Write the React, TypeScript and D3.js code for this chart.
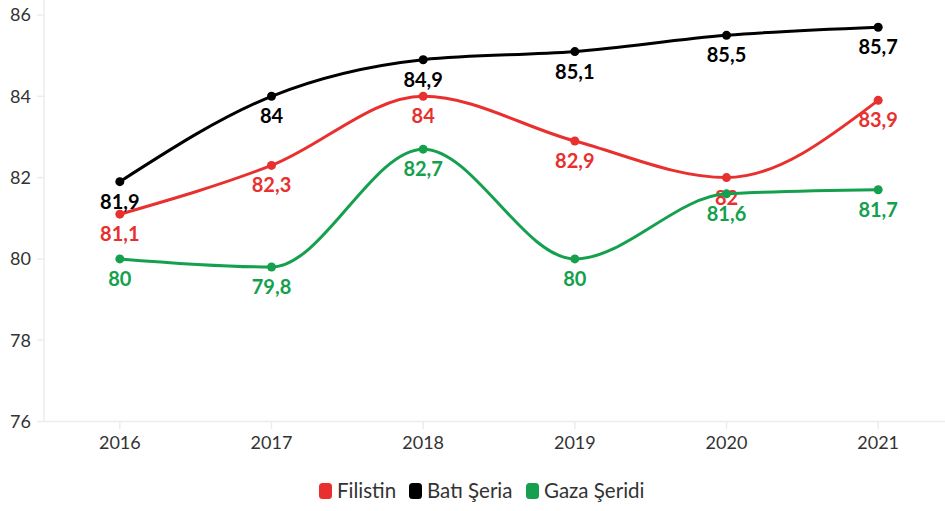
import React from "react";
import * as d3 from "d3";

const years = ["2016", "2017", "2018", "2019", "2020", "2021"];
const filistin = [81.1, 82.3, 84, 82.9, 82, 83.9];
const batiSeria = [81.9, 84, 84.9, 85.1, 85.5, 85.7];
const gazaSeridi = [80, 79.8, 82.7, 80, 81.6, 81.7];
const yTicks = [76, 78, 80, 82, 84, 86];

const seriesNames = ["Filistin", "Batı Şeria", "Gaza Şeridi"];
const seriesValues = [filistin, batiSeria, gazaSeridi];
const seriesColors = ["#e8302f", "#000000", "#15a04e"];

const W = 945;
const H = 511;
const FONT = "Lato, 'Source Sans Pro', sans-serif";

export default function App() {
  const x = d3.scaleBand<string>().domain(years).range([44, 954]);
  const y = d3.scaleLinear().domain([76, 86]).range([421.5, 15]);
  const cx = (d: string) => (x(d) as number) + x.bandwidth() / 2;
  const line = d3
    .line<number>()
    .x((_, i) => cx(years[i]))
    .y((v) => y(v))
    .curve(d3.curveMonotoneX);
  const fmt = (v: number) => String(v).replace(".", ",");

  const legendX = [319, 409, 526];

  return (
    <svg width={W} height={H} style={{ position: "absolute", left: 0, top: 0, fontFamily: FONT }}>
      <rect width={W} height={H} fill="#fff" />
      <line x1={44} x2={44} y1={0} y2={421.5} stroke="#ececec" strokeWidth={1.5} />
      <line x1={44} x2={W} y1={421.5} y2={421.5} stroke="#ececec" strokeWidth={1.5} />
      {yTicks.map((t) => (
        <g key={t}>
          <line x1={37} x2={44} y1={y(t)} y2={y(t)} stroke="#ececec" strokeWidth={1.5} />
          <text x={31} y={y(t)} dy="0.36em" textAnchor="end" fontSize={18} fill="#333">
            {t}
          </text>
        </g>
      ))}
      {years.map((yr) => (
        <g key={yr}>
          <line x1={cx(yr)} x2={cx(yr)} y1={421.5} y2={429} stroke="#ececec" strokeWidth={1.5} />
          <text x={cx(yr)} y={449} textAnchor="middle" fontSize={18} fill="#333">
            {yr}
          </text>
        </g>
      ))}
      {seriesValues.map((vals, si) => (
        <g key={si}>
          <path d={line(vals) || ""} fill="none" stroke={seriesColors[si]} strokeWidth={3} />
          {vals.map((v, i) => (
            <circle key={i} cx={cx(years[i])} cy={y(v)} r={4.5} fill={seriesColors[si]} />
          ))}
          {vals.map((v, i) => (
            <text
              key={"t" + i}
              x={cx(years[i])}
              y={y(v) + 27}
              textAnchor="middle"
              fontSize={20}
              fontWeight={700}
              fill={seriesColors[si]}
            >
              {fmt(v)}
            </text>
          ))}
        </g>
      ))}
      {seriesNames.map((n, i) => (
        <g key={n}>
          <rect x={legendX[i]} y={483} width={13} height={16} rx={3.5} fill={seriesColors[i]} />
          <text x={legendX[i] + 18} y={498} fontSize={20.5} fill="#333">
            {n}
          </text>
        </g>
      ))}
    </svg>
  );
}
